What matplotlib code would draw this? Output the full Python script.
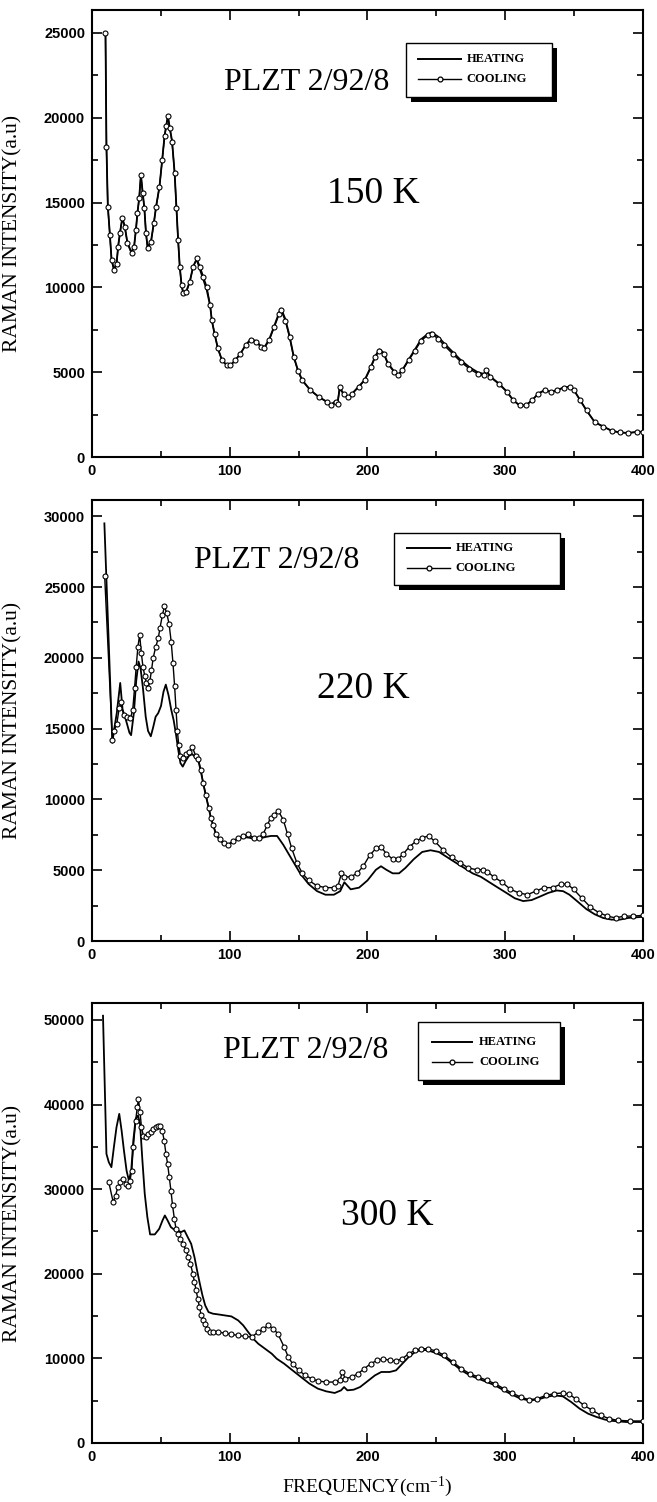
import matplotlib
matplotlib.use("Agg")
import matplotlib.pyplot as plt
from matplotlib.patches import Rectangle
from matplotlib.ticker import MultipleLocator
from matplotlib.transforms import offset_copy

plt.rcParams['font.family'] = ['Liberation Serif', 'DejaVu Serif']
plt.rcParams['mathtext.default'] = 'regular'

# 150 K: heating and cooling share one frequency grid
freq_150 = [9.8, 10.5, 11.5, 13.0, 14.2, 16.0, 17.9, 19.0, 20.3, 22.0, 23.8, 25.7, 28.7, 30.6,
            31.9, 33.0, 34.3, 35.5, 36.8, 38.0, 39.2, 40.4, 42.9, 44.9, 46.6, 49.0, 51.0, 52.7,
            53.9, 55.1, 56.4, 58.1, 60.0, 61.3, 62.5, 63.7, 65.0, 66.2, 68.6, 71.0, 73.5, 76.0,
            78.4, 80.9, 83.3, 85.8, 87.0, 89.0, 91.4, 94.4, 98.0, 100.5, 104.0, 107.8, 111.5,
            115.2, 118.9, 122.5, 125.0, 128.7, 132.4, 136.0, 137.3, 140.3, 143.4, 146.4, 149.4,
            152.5, 158.5, 164.6, 170.7, 173.7, 176.8, 178.3, 179.8, 182.8, 185.9, 188.9, 193.5,
            198.0, 202.6, 205.6, 208.7, 211.7, 214.7, 219.3, 222.3, 225.4, 229.9, 234.5, 239.0,
            243.6, 246.6, 251.2, 255.7, 261.8, 267.9, 274.0, 280.0, 284.6, 286.1, 289.1, 295.2,
            301.3, 305.8, 310.4, 314.9, 319.5, 324.0, 328.6, 333.2, 337.7, 342.3, 346.8, 349.9,
            354.4, 359.0, 365.0, 371.1, 377.2, 383.3, 389.3, 395.4, 400.0]
cool_150 = [25000, 18300, 14760, 13090, 11600, 11020, 11400, 12400, 13190, 14070, 13580, 12600,
            12010, 12400, 13390, 14370, 15260, 16630, 15550, 14670, 13190, 12300, 12700, 13780,
            14760, 15940, 17520, 18900, 19490, 20080, 19400, 18600, 16730, 14670, 12800, 11220,
            10140, 9650, 9740, 10330, 11220, 11710, 11220, 10630, 10040, 8960, 8070, 7280, 6400,
            5710, 5410, 5410, 5710, 6100, 6590, 6890, 6790, 6500, 6400, 6890, 7680, 8460, 8640,
            8050, 7070, 5890, 5100, 4520, 3930, 3540, 3240, 3040, 3240, 3140, 4120, 3730, 3540,
            3730, 4120, 4520, 5300, 5890, 6280, 6090, 5500, 5010, 4810, 5110, 5700, 6280, 6870,
            7170, 7270, 6970, 6580, 6090, 5600, 5200, 4910, 4810, 5110, 4710, 4320, 3830, 3340,
            3040, 3040, 3340, 3730, 3930, 3830, 3930, 4090, 4120, 3930, 3340, 2750, 2060, 1800,
            1550, 1450, 1420, 1480, 1500]
heat_150 = [25000, 18300, 14800, 13100, 11650, 11050, 11450, 12450, 13200, 14100, 13600, 12650,
            12050, 12450, 13400, 14400, 15300, 16650, 15600, 14700, 13200, 12350, 12750, 13800,
            14800, 15950, 17550, 18950, 19550, 20100, 19450, 18650, 16750, 14700, 12850, 11250,
            10150, 9700, 9800, 10350, 11250, 11650, 11050, 10450, 9850, 8900, 8050, 7250, 6400,
            5700, 5400, 5400, 5700, 6100, 6600, 6950, 6850, 6550, 6450, 6950, 7750, 8550, 8750,
            8150, 7150, 5950, 5150, 4550, 3950, 3550, 3250, 3100, 3300, 3200, 4050, 3700, 3550,
            3750, 4150, 4550, 5350, 5950, 6350, 6150, 5550, 5050, 4850, 5150, 5750, 6350, 6950,
            7250, 7350, 7100, 6700, 6200, 5700, 5300, 5000, 4900, 5150, 4750, 4350, 3850, 3350,
            3050, 3050, 3350, 3750, 3950, 3850, 3950, 4100, 4150, 3950, 3350, 2750, 2050, 1800,
            1550, 1450, 1420, 1480, 1500]

# 220 K
freq_220_heat = [9.0, 14.8, 16.0, 18.0, 20.5, 22.2, 24.7, 27.2, 28.4, 30.4, 32.1, 33.8, 35.3,
                 37.0, 39.0, 40.7, 42.7, 44.4, 46.2, 48.1, 50.1, 51.9, 53.6, 55.6, 57.5, 59.3,
                 61.0, 62.5, 64.2, 65.9, 67.9, 70.4, 72.8, 75.3, 77.3, 79.0, 80.7, 82.7, 84.7,
                 86.4, 88.1, 90.1, 92.6, 95.6, 98.8, 102.5, 106.2, 109.9, 114.5, 118.0, 122.0,
                 126.0, 129.8, 134.4, 138.9, 145.0, 151.1, 157.3, 163.4, 169.5, 175.6, 180.2,
                 183.2, 187.8, 193.9, 200.0, 206.1, 209.8, 213.7, 218.3, 222.9, 227.5, 233.6,
                 239.7, 245.8, 251.9, 258.0, 264.1, 270.2, 276.3, 282.4, 288.5, 294.7, 300.8,
                 306.9, 313.0, 319.1, 325.2, 331.3, 337.4, 342.0, 346.6, 352.7, 358.8, 364.9,
                 371.0, 377.1, 383.2, 389.3, 400.0]
heat_220 = [29500, 14000, 14900, 16100, 18230, 16350, 15590, 14710, 14540, 16100, 18360, 19740,
            19240, 17860, 15840, 14840, 14460, 15090, 15840, 16100, 16600, 17600, 18110, 17350,
            16350, 15590, 14590, 13580, 12570, 12320, 12700, 13080, 13200, 12950, 12700, 12000,
            11150, 10250, 9400, 8650, 8150, 7500, 7150, 6900, 6800, 7050, 7250, 7350, 7290, 7200,
            7250, 7350, 7420, 7420, 6790, 5780, 4780, 4020, 3520, 3270, 3270, 3520, 4150, 3650,
            3770, 4280, 5030, 5280, 5030, 4780, 4780, 5160, 5780, 6290, 6410, 6290, 5910, 5530,
            5160, 4780, 4530, 4150, 3770, 3400, 3020, 2820, 2890, 3140, 3400, 3570, 3520, 3270,
            2770, 2260, 1890, 1630, 1510, 1510, 1630, 1710]
freq_220_cool = [9.2, 14.8, 16.0, 18.0, 19.8, 21.0, 23.0, 25.4, 27.9, 29.6, 30.9, 32.1, 33.3,
                 34.6, 35.8, 37.0, 38.3, 39.5, 40.7, 42.0, 43.2, 44.4, 46.2, 48.1, 49.4, 51.1,
                 52.6, 54.3, 56.0, 57.5, 58.8, 60.0, 61.0, 62.0, 63.0, 64.2, 65.9, 67.9, 70.4,
                 72.8, 75.3, 77.3, 79.0, 80.7, 82.7, 84.7, 86.4, 88.1, 90.1, 92.6, 95.6, 98.8,
                 102.5, 106.2, 109.9, 113.6, 117.3, 121.0, 124.2, 127.2, 129.6, 132.1, 135.3,
                 138.9, 142.0, 145.0, 148.7, 152.7, 157.3, 163.4, 169.5, 175.6, 178.6, 181.1,
                 183.2, 187.8, 192.4, 196.9, 201.5, 206.1, 209.8, 213.7, 218.3, 222.0, 226.0,
                 230.5, 235.1, 239.7, 244.3, 248.9, 255.0, 261.0, 267.2, 273.3, 279.4, 284.0,
                 287.0, 291.6, 297.7, 303.8, 309.9, 316.0, 322.1, 328.2, 334.4, 340.5, 345.0,
                 349.6, 355.7, 361.8, 367.9, 374.0, 380.2, 386.3, 392.4, 400.0]
cool_220 = [25800, 14210, 14840, 15340, 16470, 16850, 15970, 15840, 15720, 16350, 17860, 19370,
            20750, 21630, 20370, 19370, 18740, 18230, 17860, 18360, 19110, 19990, 20750, 21380,
            22130, 23010, 23640, 23140, 22380, 21130, 19620, 17980, 16350, 14840, 13830, 13080,
            12950, 13200, 13330, 13710, 13080, 12830, 12070, 11190, 10310, 9430, 8680, 8170,
            7540, 7170, 6920, 6790, 7040, 7290, 7420, 7540, 7290, 7290, 7540, 8170, 8680, 8930,
            9180, 8550, 7540, 6540, 5530, 4780, 4280, 3900, 3770, 3770, 3900, 4780, 4530, 4530,
            4780, 5280, 6040, 6540, 6660, 6160, 5780, 5780, 6160, 6660, 7040, 7290, 7420, 7040,
            6410, 5910, 5530, 5160, 5030, 5030, 4900, 4530, 4150, 3650, 3400, 3270, 3520, 3770,
            3770, 4020, 4020, 3650, 3020, 2390, 2010, 1760, 1630, 1760, 1760, 1810]

# 300 K
freq_300_heat = [8.0, 10.5, 12.2, 14.1, 15.9, 17.8, 19.8, 21.5, 23.2, 25.1, 26.8, 28.5, 30.0,
                 31.7, 33.4, 34.9, 36.6, 38.3, 40.2, 42.2, 45.6, 48.8, 51.2, 52.9, 54.9, 57.3,
                 59.8, 62.2, 64.6, 67.1, 69.5, 72.0, 74.4, 76.3, 78.3, 80.2, 82.2, 84.6, 87.8,
                 91.5, 96.3, 101.2, 106.1, 109.8, 113.4, 117.1, 120.7, 125.6, 130.5, 134.1,
                 139.5, 145.6, 151.7, 157.9, 164.0, 170.1, 176.2, 180.8, 183.0, 185.4, 190.0,
                 194.6, 200.8, 205.4, 210.0, 216.1, 220.7, 225.3, 229.9, 234.5, 239.1, 243.7,
                 249.8, 255.9, 262.1, 268.2, 274.3, 280.5, 286.6, 292.7, 298.9, 305.0, 311.1,
                 317.2, 323.4, 329.5, 335.6, 341.8, 347.9, 354.0, 360.2, 366.3, 372.4, 378.5,
                 387.7, 400.0]
heat_300 = [50500, 34170, 33190, 32600, 34960, 37320, 38900, 36930, 34570, 32200, 31020, 32200,
            35750, 38310, 38700, 37720, 33390, 29450, 26690, 24650, 24650, 25310, 26300, 26890,
            26300, 25510, 25200, 25120, 24920, 25120, 24330, 23540, 21970, 20390, 18820, 17440,
            16260, 15470, 15280, 15200, 15080, 14960, 14490, 13900, 13110, 12320, 11730, 11140,
            10550, 9960, 9370, 8580, 7800, 7010, 6420, 6100, 5910, 6220, 6610, 6220, 6300, 6610,
            7400, 7990, 8390, 8390, 8580, 9370, 10160, 10750, 11020, 10950, 10630, 10160, 9370,
            8580, 7990, 7600, 7200, 6810, 6220, 5710, 5240, 5040, 5120, 5430, 5630, 5510, 4840,
            4060, 3460, 3070, 2760, 2600, 2480, 2480]
freq_300_cool = [12.2, 15.4, 17.1, 18.8, 20.7, 22.7, 24.4, 26.1, 27.6, 28.8, 30.0, 31.7, 32.9,
                 33.7, 34.9, 35.9, 37.3, 39.0, 40.7, 42.7, 44.6, 46.3, 48.0, 49.5, 51.0, 52.4,
                 53.7, 54.9, 56.1, 57.3, 58.5, 59.8, 61.0, 62.2, 64.1, 66.1, 68.3, 70.0, 71.5,
                 73.2, 74.4, 75.6, 76.8, 78.0, 79.3, 80.7, 82.2, 83.7, 85.4, 87.8, 91.5, 96.3,
                 101.2, 106.1, 111.0, 115.9, 120.7, 124.4, 128.0, 131.7, 134.9, 139.5, 142.5,
                 145.6, 150.2, 154.8, 159.4, 164.0, 170.1, 176.2, 179.9, 181.8, 183.9, 188.5,
                 193.1, 197.7, 202.3, 206.9, 211.5, 216.1, 220.7, 225.3, 229.9, 234.5, 239.1,
                 243.7, 249.8, 255.9, 262.1, 268.2, 274.3, 280.5, 286.6, 292.7, 298.9, 305.0,
                 311.1, 317.2, 323.4, 329.5, 335.6, 341.8, 346.4, 351.0, 357.1, 363.2, 369.3,
                 375.5, 381.6, 390.8, 400.0]
cool_300 = [30830, 28460, 29250, 30240, 30830, 31220, 30630, 30430, 31020, 32200, 34960, 38110,
            39680, 40670, 39100, 37320, 36340, 36140, 36540, 36730, 37130, 37320, 37520, 37520,
            36930, 35750, 34170, 32990, 31420, 29840, 28070, 26500, 25310, 24720, 24130, 23540,
            22760, 21970, 21180, 20000, 19020, 18030, 17050, 16060, 15080, 14490, 14090, 13500,
            13110, 13110, 13110, 12990, 12830, 12720, 12600, 12520, 13110, 13500, 13900, 13500,
            12910, 11340, 10160, 9370, 8580, 7990, 7600, 7320, 7200, 7200, 7400, 8390, 7600,
            7800, 8190, 8780, 9370, 9760, 9960, 9760, 9690, 9960, 10550, 10950, 11140, 11140,
            10870, 10350, 9570, 8780, 8190, 7800, 7400, 7010, 6420, 5910, 5430, 5120, 5240, 5630,
            5830, 5910, 5750, 5240, 4450, 3860, 3270, 2870, 2680, 2600, 2600]

sample = 'PLZT 2/92/8'
temperatures = ['150 K', '220 K', '300 K']
y_maxes = [26350, 31150, 52000]
y_steps = [5000, 5000, 10000]

fig = plt.figure(figsize=(6.57, 15.02), dpi=100)
axes = [fig.add_axes([0.140, 0.6957, 0.8387, 0.2976]),
        fig.add_axes([0.140, 0.3735, 0.8387, 0.2936]),
        fig.add_axes([0.140, 0.0393, 0.8387, 0.2929])]

series = [(freq_150, heat_150, freq_150, cool_150),
          (freq_220_heat, heat_220, freq_220_cool, cool_220),
          (freq_300_heat, heat_300, freq_300_cool, cool_300)]

# text placement (data coords): sample name, temperature, legend box and rows
layout = [
    dict(name=(156, 22100), temp=(204, 15500), box=(228, 334, 21200, 24400),
         rows=(23470, 22290), line=(237, 268), text=272),
    dict(name=(134, 26900), temp=(197, 17850), box=(219, 340, 25150, 28800),
         rows=(27790, 26330), line=(229, 260), text=264),
    dict(name=(155, 46380), temp=(214, 26900), box=(237, 340, 42900, 49700),
         rows=(47400, 45000), line=(247, 276), text=281),
]


def draw_legend(ax, spec):
    x0, x1, y0, y1 = spec['box']
    shadow_tr = offset_copy(ax.transData, fig=ax.figure, x=5, y=-5, units='dots')
    ax.add_patch(Rectangle((x0, y0), x1 - x0, y1 - y0, transform=shadow_tr,
                           facecolor='black', edgecolor='none', zorder=5))
    ax.add_patch(Rectangle((x0, y0), x1 - x0, y1 - y0, facecolor='white',
                           edgecolor='black', lw=1.0, zorder=6))
    lx0, lx1 = spec['line']
    yh, yc = spec['rows']
    ax.plot([lx0, lx1], [yh, yh], color='black', lw=1.4, zorder=7)
    ax.plot([lx0, lx1], [yc, yc], color='black', lw=1.0, zorder=7)
    ax.plot([(lx0 + lx1) / 2], [yc], 'o', ms=3.5, mfc='white', mec='black', mew=0.9, zorder=8)
    for y, lab in ((yh, 'HEATING'), (yc, 'COOLING')):
        ax.text(spec['text'], y, lab, fontsize=9, fontweight='bold', va='center',
                ha='left', zorder=8)


for ax, (hx, hy, cx, cy), temp, ymax, ystep, spec in zip(axes, series, temperatures,
                                                          y_maxes, y_steps, layout):
    ax.plot(hx, hy, color='black', lw=1.3, zorder=3)
    ax.plot(cx, cy, color='black', lw=1.0, marker='o', ms=3.6, mfc='white',
            mec='black', mew=0.8, zorder=4)

    ax.set_xlim(0, 400)
    ax.set_ylim(0, ymax)
    ax.xaxis.set_major_locator(MultipleLocator(100))
    ax.xaxis.set_minor_locator(MultipleLocator(50))
    ax.yaxis.set_major_locator(MultipleLocator(ystep))
    ax.yaxis.set_minor_locator(MultipleLocator(ystep / 2))
    ax.tick_params(which='both', direction='in', top=True, right=True, width=1.2)
    ax.tick_params(which='major', length=7, labelsize=10.5, pad=5)
    ax.tick_params(which='minor', length=4)
    for lab in ax.get_xticklabels() + ax.get_yticklabels():
        lab.set_family('Liberation Sans')
        lab.set_fontweight('bold')
    for sp in ax.spines.values():
        sp.set_linewidth(1.5)

    ax.set_ylabel('RAMAN INTENSITY(a.u)', fontsize=15.5)
    ax.yaxis.set_label_coords(-0.127, 0.5)

    ax.text(*spec['name'], sample, fontsize=23, ha='center', va='center')
    ax.text(*spec['temp'], temp, fontsize=27, ha='center', va='center')
    draw_legend(ax, spec)

axes[-1].set_xlabel('FREQUENCY(cm$^{-1}$)', fontsize=14)
axes[-1].xaxis.set_label_coords(0.5, -0.072)

fig.savefig('out.png', dpi=100)
